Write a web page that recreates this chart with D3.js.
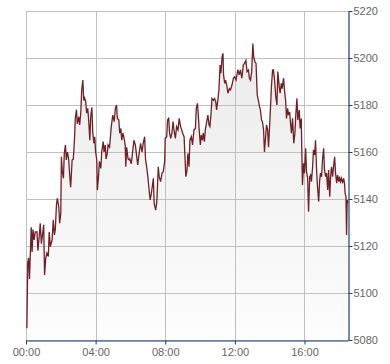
<!DOCTYPE html>
<html>
<head>
<meta charset="utf-8">
<script src="https://cdn.jsdelivr.net/npm/d3@7"></script>
<style>
html,body{margin:0;padding:0;background:#fff;}
svg{display:block;}
text{font-family:Arial,"Liberation Sans",sans-serif;}
</style>
</head>
<body>
<svg id="chart" width="390" height="364"></svg>
<script>
// minutes since 00:00
const minutes = [
3,6,9,12,15,18,21,24,28,32,38,41,46,49,53,57,61,64,68,72,77,80,84,90,94,98,101,105,108,113,116,120,
122,125,129,132,136,139,143,147,151,154,159,163,167,170,174,177,182,185,189,192,196,199,202,206,209,213,216,220,223,227,230,234,237,240,244,
246,250,253,258,261,266,269,273,276,280,283,288,291,294,299,304,308,312,315,320,323,327,330,334,337,342,344,347,352,357,
358,363,367,372,377,381,385,390,395,400,404,409,412,416,420,425,428,432,435,439,442,447,451,456,459,464,469,473,478,480,485,488,492,495,499,503,507,510,515,519,524,528,533,537,540,545,548,551,555,558,562,565,570,574,579,584,587,591,594,597,601,604,608,611,615,618,623,627,631,634,638,641,646,650,654,657,662,665,669,672,676,679,681,685,688,692,696,701,705,710,715,719,724,728,
730,735,739,744,749,753,758,762,767,770,774,778,782,785,789,793,797,801,805,808,812,815,819,822,826,829,833,836,840,843,846,850,853,857,861,865,868,873,876,880,883,888,891,895,898,902,905,909,912,915,919,923,927,930,934,937,942,945,949,951,953,957,960,964,967,971,974,978,981,984,988,991,995,998,1002,1005,1009,1012,1015,1019,1022,1026,1029,1033,1036,1040,1043,1047,1050,1053,1057,1060,1064,1067,1071,1074,1078,1081,1084,1088,1091,1095,1098,1100,1103,1105,1107,1110
];
const values = [
5085,5113,5115,5106,5117,5128,5117.5,5127,5122.6,5126,5126,5118,5124.7,5129.7,5121,5125,5129,5107.7,5114.7,5117,5115.5,5126,5119.7,5122.6,5131,5124.7,5127,5137.5,5140.3,5136.7,5129.7,5134,
5158,5152,5148.8,5159.4,5163,5156.6,5160,5157,5149.5,5145,5156.6,5157,5165,5174.3,5178,5172,5175,5171.5,5177,5186.4,5190.6,5182,5183,5181.4,5176.5,5178.6,5173.6,5165,5175,5179,5168.6,5163.7,5166.5,5160,5156.6,
5143.8,5149.5,5156,5153,5160,5164.4,5160,5163,5157,5159.4,5163,5162,5166.5,5170.8,5175.7,5172.9,5178.6,5180,5174.3,5173.6,5168,5170,5165,5168,5166.5,5163,5153.7,5162,5157,5156.6,
5157,5155,5159.4,5165,5163,5158.7,5154.5,5159.4,5163.7,5160,5163.7,5166.5,5157,5153.7,5149.5,5143,5139.6,5142.4,5145,5148.8,5138,5135.3,5138.9,5153.7,5149.5,5147.4,5151,5151.6,5156,5165.8,5166.5,5173.6,5174.3,5168,5165.8,5168,5172.9,5169.4,5165.8,5170.8,5169.4,5174.3,5170.8,5169.4,5168,5166.5,5158,5149.5,5152.3,5159.4,5153.7,5165,5166.5,5163,5169.4,5170,5178.6,5180.7,5175.7,5169.4,5163,5167.2,5165,5168,5164.4,5169.4,5172.9,5175.7,5171.5,5170.8,5176.5,5182.8,5182,5182.8,5181.4,5177.9,5182.8,5186.4,5197,5193.5,5200.6,5202,5192.8,5189.2,5190.6,5188.5,5185,5187,5186.4,5188.5,5191.4,5192,5190.6,5193.5,
5195,5192.8,5194.9,5191.4,5197,5197.7,5199,5194.2,5194.9,5191.4,5190.6,5194.2,5206.2,5200.6,5198.4,5197.7,5184.3,5182,5179.3,5177.9,5173.6,5172.9,5169.4,5160,5166.5,5171.5,5169.4,5162,5171.5,5179.3,5187.8,5194.9,5194.9,5190.6,5183.5,5180,5194.2,5187.8,5185,5189.2,5187,5191.4,5186.4,5182,5174.3,5178.6,5175.7,5177,5172.1,5168,5174.3,5163.7,5168,5175.7,5182.8,5173.6,5177.9,5170,5174.3,5158.7,5146,5155.2,5151,5161.6,5151.6,5148.8,5134.6,5149.5,5150.2,5147.4,5153.7,5160.9,5158.7,5165,5151.6,5145,5138.9,5147.4,5151,5149.5,5156.6,5161.6,5152.3,5149.5,5151,5143.8,5152.3,5141,5149.5,5153.7,5149.5,5153.7,5158,5151,5146.7,5150.2,5147.4,5149.5,5147.4,5148.8,5146.7,5148.8,5146.7,5142.4,5141,5124.7,5139.6,5138.2
];
const xTicks = [0, 240, 480, 720, 960];
const xTickLabels = ["00:00", "04:00", "08:00", "12:00", "16:00"];
const yTicks = [5080, 5100, 5120, 5140, 5160, 5180, 5200, 5220];

const data = minutes.map((m, i) => ({m, v: values[i]}));

const L = 26, R = 348, T = 11, B = 340;
const svg = d3.select("#chart");
const x = d3.scaleLinear().domain([0, 1110]).range([L, R]);
const y = d3.scaleLinear().domain([5080, 5220]).range([B, T]);

const defs = svg.append("defs");
const grad = defs.append("linearGradient").attr("id", "fillg")
  .attr("gradientUnits", "userSpaceOnUse")
  .attr("x1", 0).attr("x2", 0).attr("y1", T).attr("y2", B);
grad.append("stop").attr("offset", "0%").attr("stop-color", "#e9e9e9");
grad.append("stop").attr("offset", "100%").attr("stop-color", "#fdfdfd");

// area
svg.append("path").datum(data)
  .attr("fill", "url(#fillg)")
  .attr("d", d3.area().x(d => x(d.m)).y0(B).y1(d => y(d.v)));

// grid
const grid = svg.append("g").attr("stroke", "#c0c0c0").attr("stroke-width", 1).attr("shape-rendering", "crispEdges");
grid.selectAll(".h").data(yTicks).enter().append("line")
  .attr("x1", L).attr("x2", R).attr("y1", d => Math.round(y(d)) + 0.5).attr("y2", d => Math.round(y(d)) + 0.5);
grid.selectAll(".v").data(xTicks).enter().append("line")
  .attr("y1", T).attr("y2", B).attr("x1", d => Math.round(x(d)) + 0.5).attr("x2", d => Math.round(x(d)) + 0.5);

// line
svg.append("path").datum(data)
  .attr("fill", "none").attr("stroke", "#6e2026").attr("stroke-width", 1.3)
  .attr("stroke-linejoin", "miter")
  .attr("d", d3.line().x(d => x(d.m)).y(d => y(d.v)));

// axes
const axisColor = "#1c3f6e";
const yAxis = svg.append("g").attr("transform", `translate(${R + 0.5},0)`)
  .call(d3.axisRight(y).tickValues(yTicks).tickSize(4).tickSizeOuter(0).tickPadding(1).tickFormat(d3.format("d")));
const xAxis = svg.append("g").attr("transform", `translate(0,${B + 0.5})`)
  .call(d3.axisBottom(x).tickValues(xTicks).tickSize(4).tickSizeOuter(0).tickPadding(4).tickFormat((d, i) => xTickLabels[i]));
[yAxis, xAxis].forEach(a => {
  a.select(".domain").attr("stroke", axisColor).attr("stroke-width", 1.2);
  a.selectAll(".tick line").attr("stroke", axisColor);
  a.selectAll(".tick text").attr("fill", "#666").style("font-size", "11px").style("font-family", "Arial, 'Liberation Sans', sans-serif");
});
</script>
</body>
</html>
